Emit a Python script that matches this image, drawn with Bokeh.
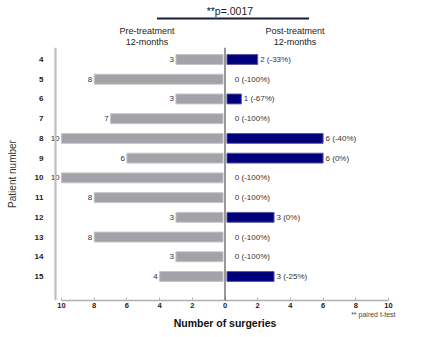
from bokeh.plotting import figure
from bokeh.models import Range1d, FixedTicker, ColumnDataSource, Title, Span
from bokeh.layouts import column
from bokeh.core.properties import value
from bokeh.embed import file_html
from bokeh.resources import INLINE

patients = [4, 5, 6, 7, 8, 9, 10, 11, 12, 13, 14, 15]
pre_values = [3, 8, 3, 7, 10, 6, 10, 8, 3, 8, 3, 4]
post_values = [2, 0, 1, 0, 6, 6, 0, 0, 3, 0, 0, 3]
post_labels = ["2 (-33%)", "0 (-100%)", "1 (-67%)", "0  (-100%)", "6 (-40%)", "6 (0%)",
               "0 (-100%)", "0  (-100%)", "3 (0%)", "0  (-100%)", "0 (-100%)", "3 (-25%)"]
x_ticks = [-10, -8, -6, -4, -2, 0, 2, 4, 6, 8, 10]
x_tick_labels = ["10", "8", "6", "4", "2", "0", "2", "4", "6", "8", "10"]
title_text = "**p=.0017"
pre_title = "Pre-treatment\n12-months"
post_title = "Post-treatment\n12-months"

FONT = "Liberation Sans"
GREY = "#a3a3a7"
NAVY = "#00007c"

x_range = Range1d(-10.734, 10.734)

# ---------------- header strip (title, bracket, group headings) ----------------
h = figure(width=426, height=47, output_backend="svg", toolbar_location=None,
           x_range=x_range, y_range=Range1d(47, 0), x_axis_type=None, y_axis_type=None,
           min_border_left=49, min_border_right=26, min_border_top=0, min_border_bottom=0)
h.outline_line_color = None
h.grid.visible = False
h.segment(x0=[-4.16], y0=[18], x1=[5.14], y1=[18], line_color="#1c1c3c", line_width=2)
h.text(x=[0.3], y=[10], text=[title_text], text_align="center", text_baseline="middle",
       text_font=value(FONT), text_font_size="10.5px", text_color="#222222")
h.text(x=[-4.77, 4.28], y=[36, 36], text=[pre_title, post_title], text_align="center",
       text_baseline="middle", text_font=value(FONT), text_font_size="9px",
       text_color="#222222", text_line_height=1.1)

# ---------------- main chart ----------------
gap = 0.12
src = ColumnDataSource(dict(
    y=patients,
    pre_left=[-v for v in pre_values],
    pre_right=[-gap] * len(pre_values),
    post_left=[gap] * len(post_values),
    post_right=[v if v > 0 else gap for v in post_values],
    pre_text=[str(v) for v in pre_values],
    pre_tx=[-v - 0.12 for v in pre_values],
    post_text=post_labels,
    post_tx=[v + 0.15 if v > 0 else 0.6 for v in post_values],
    post_alpha=[1 if v > 0 else 0 for v in post_values],
))

p = figure(width=426, height=290, output_backend="svg", toolbar_location=None,
           x_range=x_range, y_range=Range1d(16.216, 3.392),
           min_border_left=49, min_border_right=26, min_border_top=0, min_border_bottom=37)
p.outline_line_color = None
p.grid.visible = False
p.background_fill_color = "white"

# left axis rule and central divider
p.add_layout(Span(location=-10.367, dimension="height", line_color="#c0c0c4", line_width=2.2))
p.hbar(y="y", left="pre_left", right="pre_right", height=0.5, source=src,
       fill_color=GREY, line_color="#c4c4c8", line_width=1)
p.hbar(y="y", left="post_left", right="post_right", height=0.5, source=src,
       fill_color=NAVY, line_color="#5a5aa0", line_width=1, fill_alpha="post_alpha", line_alpha="post_alpha")
p.add_layout(Span(location=0, dimension="height", line_color="#555555", line_width=1.2))

p.text(x="pre_tx", y="y", text="pre_text", source=src, text_align="right", text_baseline="middle",
       text_font=value(FONT), text_font_size="8px", text_color="#333333")
p.text(x="post_tx", y="y", text="post_text", source=src, text_align="left", text_baseline="middle",
       text_font=value(FONT), text_font_size="8px", text_color="#333333")

# x axis
xa = p.xaxis[0]
xa.ticker = FixedTicker(ticks=x_ticks)
xa.major_label_overrides = {t: l for t, l in zip(x_ticks, x_tick_labels)}
xa.bounds = (-10, 10)
xa.axis_line_color = "#b0b0b0"
xa.axis_line_width = 1.5
xa.major_tick_line_color = "#b0b0b0"
xa.major_tick_in = 3
xa.major_tick_out = 0
xa.minor_tick_line_color = None
xa.major_label_text_font = FONT
xa.major_label_text_font_size = "7.5px"
xa.major_label_text_font_style = "bold"
xa.major_label_text_color = "#222222"
xa.major_label_standoff = 2

# y axis (labels only; rule drawn as a span)
ya = p.yaxis[0]
ya.ticker = FixedTicker(ticks=patients)
ya.axis_line_color = None
ya.major_tick_line_color = None
ya.minor_tick_line_color = None
ya.major_label_text_font = FONT
ya.major_label_text_font_size = "8px"
ya.major_label_text_font_style = "bold"
ya.major_label_text_color = "#222222"
ya.major_label_standoff = 0
ya.axis_label = "Patient number"
ya.axis_label_text_font = FONT
ya.axis_label_text_font_size = "10px"
ya.axis_label_text_font_style = "normal"
ya.axis_label_text_color = "#333333"
ya.axis_label_standoff = 14

p.add_layout(Title(text="** paired t-test", align="right", standoff=-4, offset=5,
                   text_font=FONT, text_font_size="7px", text_font_style="normal",
                   text_color="#444444"), "below")
p.add_layout(Title(text="Number of surgeries", align="center", standoff=-2, offset=0,
                   text_font=FONT, text_font_size="10.5px", text_font_style="bold",
                   text_color="#111111"), "below")

layout = column(h, p, spacing=0)
open("out.html", "w").write(file_html(layout, INLINE))
